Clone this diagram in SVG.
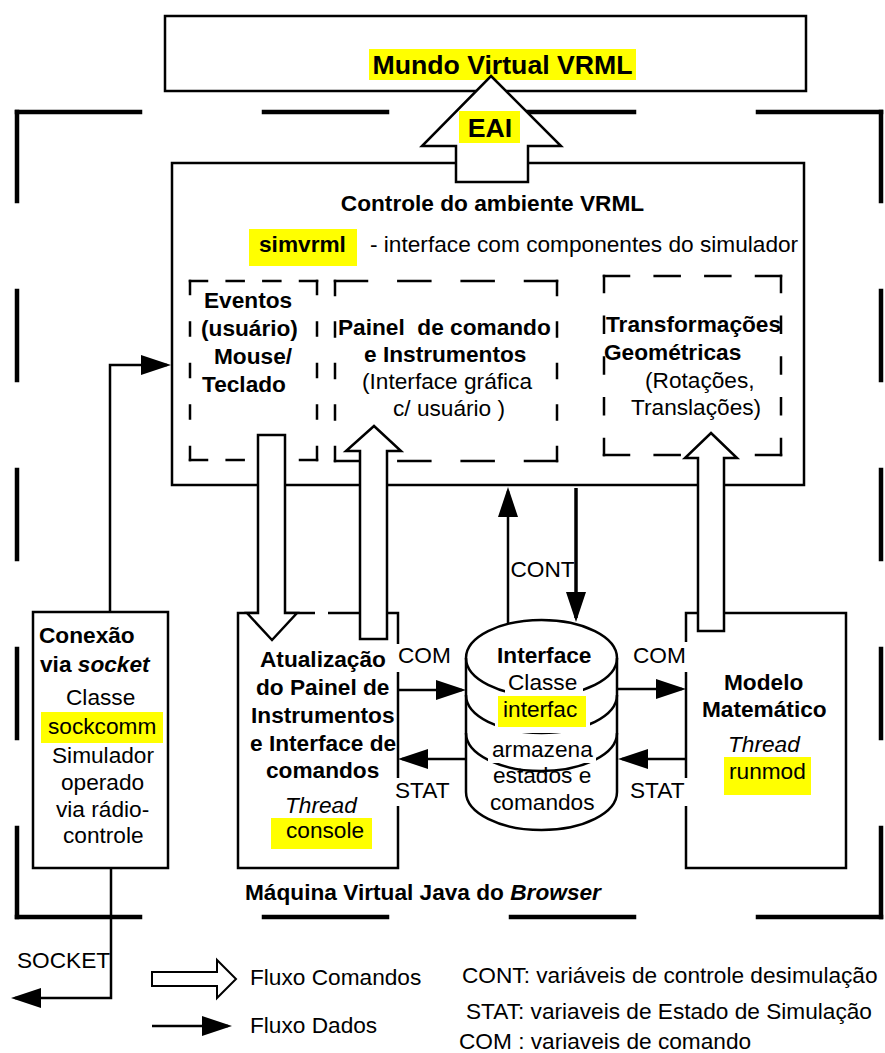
<svg xmlns="http://www.w3.org/2000/svg" width="885" height="1053" viewBox="0 0 885 1053">
  <style>
    text { font-family: "Liberation Sans", Arial, sans-serif; font-size: 22.67px; fill: #000; }
    .b { font-weight: bold; }
    .i { font-style: italic; }
    .big { font-size: 26.67px; font-weight: bold; }
    .box { fill: #fff; stroke: #000; stroke-width: 2.5; }
    .dash { fill: none; stroke: #000; stroke-width: 2.5; stroke-linecap: square; }
    .frame { fill: none; stroke: #000; stroke-width: 4.5; stroke-linecap: square; }
    .blk { fill: #fff; stroke: #000; stroke-width: 2.5; stroke-linejoin: miter; }
    .flow { fill: none; stroke: #000; stroke-width: 2.5; }
    .hl { fill: #ffff00; }
    .bg { fill: #fff; }
  </style>
  <defs>
    <marker id="dataHead" markerUnits="userSpaceOnUse" markerWidth="30" markerHeight="20" refX="26" refY="10" orient="auto">
      <path d="M0,0 L30,10 L0,20 Z" fill="#000"/>
    </marker>
  </defs>

  <!-- Java virtual machine boundary (thick dashed frame) -->
  <g id="jvm-frame">
    <path class="frame" d="M17,112 H881 M17,917 H881" stroke-dasharray="123 124"/>
    <path class="frame" d="M17,112 V917 M881,112 V917" stroke-dasharray="89 90"/>
    <text class="b" x="245" y="900">Máquina Virtual Java do <tspan class="i">Browser</tspan></text>
  </g>

  <!-- VRML world -->
  <g id="node-mundo">
    <rect class="box" x="165" y="16" width="641" height="75"/>
    <rect class="hl" x="369" y="49" width="267" height="31"/>
    <text class="big" x="502.5" y="74" text-anchor="middle">Mundo Virtual VRML</text>
  </g>

  <!-- VRML environment control -->
  <g id="node-controle">
    <rect class="box" x="172" y="163" width="632" height="322"/>
    <text class="b" x="492.5" y="211" text-anchor="middle">Controle do ambiente VRML</text>
    <rect class="hl" x="249" y="229" width="108" height="37"/>
    <text class="b" x="259" y="252">simvrml</text>
    <text x="370" y="252">- interface com componentes do simulador</text>
  </g>

  <g id="node-eventos">
    <path class="dash" d="M190,281 H317 M190,460 H317" stroke-dasharray="17 19.67"/>
    <path class="dash" d="M190,281 V460 M317,281 V460" stroke-dasharray="13 28.5"/>
    <text class="b" x="204" y="308">Eventos</text>
    <text class="b" x="201" y="336">(usuário)</text>
    <text class="b" x="214" y="364">Mouse/</text>
    <text class="b" x="202" y="392">Teclado</text>
  </g>

  <g id="node-painel">
    <path class="dash" d="M335,281 H557 M335,461 H557" stroke-dasharray="32 31.33"/>
    <path class="dash" d="M335,281 V461 M557,281 V461" stroke-dasharray="14 27.5"/>
    <text class="b" x="338" y="335" style="white-space:pre">Painel  de comando</text>
    <text class="b" x="364" y="362">e Instrumentos</text>
    <text x="362" y="389">(Interface gráfica</text>
    <text x="393" y="416">c/ usuário )</text>
  </g>

  <g id="node-transformacoes">
    <path class="dash" d="M604,276 H781 M604,455 H781" stroke-dasharray="25 25.67"/>
    <path class="dash" d="M604,276 V455 M781,276 V455" stroke-dasharray="16 24.75"/>
    <text class="b" x="606" y="332">Transformações</text>
    <text class="b" x="604" y="360">Geométricas</text>
    <text x="645" y="388">(Rotações,</text>
    <text x="631" y="415">Translações)</text>
  </g>

  <!-- socket connection -->
  <g id="node-conexao">
    <rect class="box" x="33" y="612" width="135" height="256"/>
    <text class="b" x="39" y="643">Conexão</text>
    <text class="b" x="40" y="672">via <tspan class="i">socket</tspan></text>
    <text x="66" y="705">Classe</text>
    <rect class="hl" x="41" y="712" width="122" height="31"/>
    <text x="48" y="734">sockcomm</text>
    <text x="52" y="763">Simulador</text>
    <text x="61" y="790">operado</text>
    <text x="56" y="817">via rádio-</text>
    <text x="63" y="843">controle</text>
  </g>

  <!-- panel update thread -->
  <g id="node-atualizacao">
    <path class="box" d="M315,613 H238 V868 H398 V613 H328"/>
    <text class="b" x="260" y="667">Atualização</text>
    <text class="b" x="256" y="695">do Painel de</text>
    <text class="b" x="251" y="723">Instrumentos</text>
    <text class="b" x="250" y="751">e Interface de</text>
    <text class="b" x="266" y="778">comandos</text>
    <text class="i" x="285" y="813">Thread</text>
    <rect class="hl" x="271" y="818" width="101" height="31"/>
    <text x="286" y="838">console</text>
  </g>

  <!-- shared interface store (cylinder) -->
  <g id="node-interface">
    <path class="bg" d="M466,658 V792 A75.5,38 0 0 0 617,792 V658 A75.5,38 0 0 0 466,658 Z"/>
    <path class="box" fill="none" d="M466,658 V792 A75.5,38 0 0 0 617,792 V658"/>
    <ellipse class="box" fill="none" cx="541.5" cy="658" rx="75.5" ry="38" style="fill:none"/>
    <path class="flow" d="M466,695 A75.5,38 0 0 0 617,695"/>
    <path class="flow" d="M466,733 A75.5,38 0 0 0 617,733"/>
    <text class="b" x="497" y="663">Interface</text>
    <rect class="bg" x="505" y="672" width="78" height="27"/>
    <text x="508" y="690">Classe</text>
    <rect class="bg" x="495" y="699" width="95" height="34"/>
    <rect class="hl" x="498" y="696" width="88" height="31"/>
    <text x="503" y="717">interfac</text>
    <rect class="bg" x="488" y="739" width="108" height="24"/>
    <text x="492" y="757">armazena</text>
    <text x="493" y="783">estados e</text>
    <text x="490" y="810">comandos</text>
  </g>

  <!-- mathematical model thread -->
  <g id="node-modelo">
    <rect class="box" x="686" y="613" width="160" height="255"/>
    <text class="b" x="724" y="690">Modelo</text>
    <text class="b" x="702" y="717">Matemático</text>
    <text class="i" x="728" y="752">Thread</text>
    <rect class="hl" x="724" y="757" width="87" height="38"/>
    <text x="729" y="779">runmod</text>
  </g>

  <g id="connectors">
    <!-- command flows (block arrows) -->
    <polygon class="blk" points="491,76 561,146 528,146 528,182 456,182 456,146 422,146"/>
    <rect class="hl" x="459" y="111" width="61" height="32"/>
    <text class="big" x="490" y="137" text-anchor="middle">EAI</text>
    <polygon class="blk" points="258,435 285,435 285,613 297,613 272,640 247,613 258,613"/>
    <polygon class="blk" points="374,426 401,451 387,451 387,639 360,639 360,451 346,451"/>
    <polygon class="blk" points="711,433 737,458 724,458 724,631 698,631 698,458 685,458"/>

    <!-- data flows -->
    <path class="flow" d="M110,612 V365 H167" marker-end="url(#dataHead)"/>
    <path class="flow" d="M111,868 V998 H15" marker-end="url(#dataHead)"/>
    <path class="flow" d="M398,690 H462" marker-end="url(#dataHead)"/>
    <path class="flow" d="M466,759 H402" marker-end="url(#dataHead)"/>
    <path class="flow" d="M617,689 H682" marker-end="url(#dataHead)"/>
    <path class="flow" d="M686,759 H622" marker-end="url(#dataHead)"/>
    <path class="flow" d="M508,624 V491" marker-end="url(#dataHead)"/>
    <path class="flow" style="stroke-width:3.5" d="M576,488 V618" marker-end="url(#dataHead)"/>

    <!-- flow labels -->
    <rect class="bg" x="396" y="644" width="56" height="28"/>
    <text x="398" y="663">COM</text>
    <rect class="bg" x="394" y="778" width="61" height="28"/>
    <text x="395" y="798">STAT</text>
    <rect class="bg" x="631" y="642" width="58" height="30"/>
    <text x="633" y="663">COM</text>
    <rect class="bg" x="628" y="778" width="62" height="28"/>
    <text x="630" y="798">STAT</text>
    <text x="510.5" y="577">CONT</text>
    <text x="17" y="968">SOCKET</text>
  </g>

  <!-- legend -->
  <g id="legend">
    <polygon class="blk" style="stroke-width:2" points="152,972 217,972 217,960 236,979 217,998 217,986 152,986"/>
    <text x="250" y="985">Fluxo Comandos</text>
    <path class="flow" d="M152,1026 H228" marker-end="url(#dataHead)"/>
    <text x="250" y="1033">Fluxo Dados</text>
    <text x="462" y="983">CONT: variáveis de controle desimulação</text>
    <text x="466" y="1019">STAT: variaveis de Estado de Simulação</text>
    <text x="459" y="1049">COM : variaveis de comando</text>
  </g>
</svg>
